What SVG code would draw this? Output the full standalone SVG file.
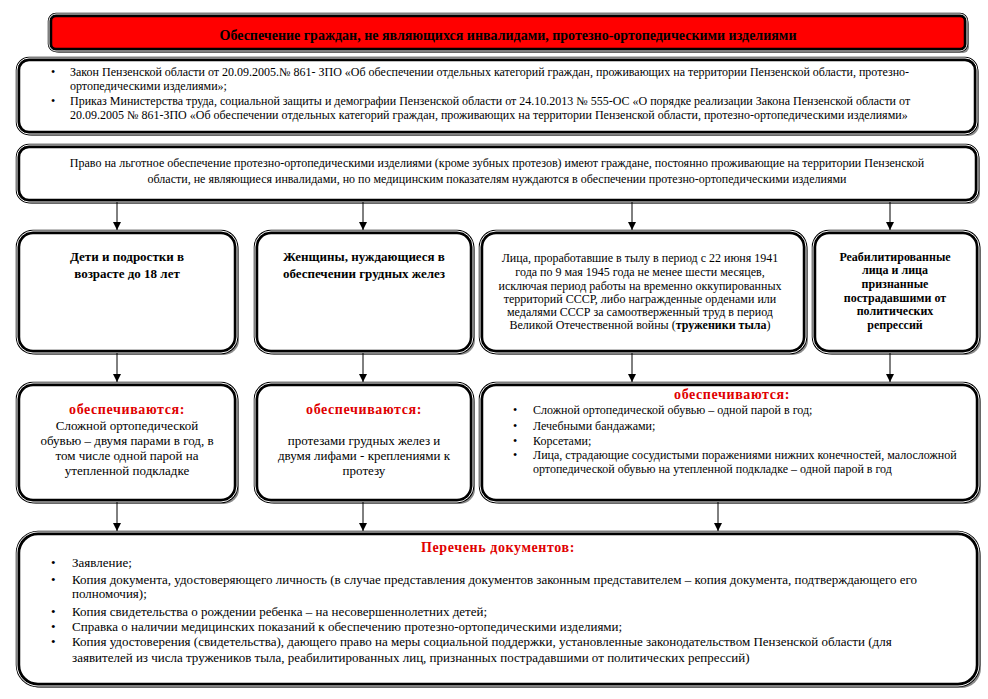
<svg xmlns="http://www.w3.org/2000/svg" width="988" height="699" viewBox="0 0 988 699">
<style>
.shadow{fill:#8a8a8a;stroke:none}
.frame{fill:#fff;stroke:#000;stroke-width:4.5}
.red{fill:#ff0000}
.gap{fill:none;stroke:#fff;stroke-width:1}
text{font-family:"Liberation Serif","Times New Roman",serif;fill:#000}
.t12{font-size:12px}
.t13{font-size:13px}
.b{font-weight:bold}
.hd{font-size:14px;font-weight:bold;fill:#e00000;letter-spacing:0.6px}
.c{text-anchor:middle}
.ln{stroke:#000;stroke-width:1;fill:none}
</style>
<defs>
<marker id="ah" viewBox="0 0 8 8" refX="8" refY="4" markerWidth="8" markerHeight="8" markerUnits="userSpaceOnUse" orient="auto">
<path d="M0,0 L8,4 L0,8 Z" fill="#000"/>
</marker>
</defs>
<rect width="988" height="699" fill="#fff"/>

<g id="title">
<rect class="shadow" x="53" y="18" width="916" height="35" rx="6"/>
<rect class="frame red" x="50" y="15" width="916" height="35" rx="6"/>
<rect class="gap" x="49" y="14" width="918" height="37" rx="7"/>
<text class="c b" x="508" y="40" font-size="14">Обеспечение граждан, не являющихся инвалидами, протезно-ортопедическими изделиями</text>
</g>

<g id="laws">
<rect class="shadow" x="21" y="62" width="958" height="74" rx="11"/>
<rect class="frame" x="18" y="59" width="958" height="74" rx="11"/>
<rect class="gap" x="17" y="58" width="960" height="76" rx="12"/>
<text class="t12" x="51" y="76">•</text>
<text class="t12" x="70" y="76">Закон Пензенской области от 20.09.2005.№ 861- ЗПО «Об обеспечении отдельных категорий граждан, проживающих на территории Пензенской области, протезно-</text>
<text class="t12" x="70" y="90">ортопедическими изделиями»;</text>
<text class="t12" x="51" y="105">•</text>
<text class="t12" x="70" y="105">Приказ Министерства труда, социальной защиты и демографии Пензенской области от 24.10.2013 № 555-ОС «О порядке реализации Закона Пензенской области от</text>
<text class="t12" x="70" y="119">20.09.2005 № 861-ЗПО «Об обеспечении отдельных категорий граждан, проживающих на территории Пензенской области, протезно-ортопедическими изделиями»</text>
</g>

<g id="right">
<rect class="shadow" x="21" y="149" width="959" height="55" rx="11"/>
<rect class="frame" x="18" y="146" width="959" height="55" rx="11"/>
<rect class="gap" x="17" y="145" width="961" height="57" rx="12"/>
<text class="t12 c" x="497" y="167">Право на льготное обеспечение протезно-ортопедическими изделиями (кроме зубных протезов) имеют граждане, постоянно проживающие на территории Пензенской</text>
<text class="t12 c" x="497" y="183">области, не являющиеся инвалидами, но по медицинским показателям нуждаются в обеспечении протезно-ортопедическими изделиями</text>
</g>

<g id="cat-children">
<rect class="shadow" x="21" y="235" width="218" height="120" rx="15"/>
<rect class="frame" x="18" y="232" width="218" height="120" rx="15"/>
<rect class="gap" x="17" y="231" width="220" height="122" rx="16"/>
<text class="t13 b c" x="127" y="261">Дети и подростки в</text>
<text class="t13 b c" x="127" y="278">возрасте до 18 лет</text>
</g>

<g id="cat-women">
<rect class="shadow" x="259" y="235" width="216" height="120" rx="15"/>
<rect class="frame" x="256" y="232" width="216" height="120" rx="15"/>
<rect class="gap" x="255" y="231" width="218" height="122" rx="16"/>
<text class="t13 b c" x="364" y="261">Женщины, нуждающиеся в</text>
<text class="t13 b c" x="364" y="278">обеспечении грудных желез</text>
</g>

<g id="cat-workers">
<rect class="shadow" x="484" y="235" width="324" height="120" rx="15"/>
<rect class="frame" x="481" y="232" width="324" height="120" rx="15"/>
<rect class="gap" x="480" y="231" width="326" height="122" rx="16"/>
<text class="t12 c" x="640" y="262">Лица, проработавшие в тылу в период с 22 июня 1941</text>
<text class="t12 c" x="640" y="276">года по 9 мая 1945 года не менее шести месяцев,</text>
<text class="t12 c" x="640" y="290">исключая период работы на временно оккупированных</text>
<text class="t12 c" x="640" y="303">территорий СССР,  либо награжденные орденами или</text>
<text class="t12 c" x="640" y="316">медалями СССР за самоотверженный труд в период</text>
<text class="t12 c" x="640" y="329">Великой Отечественной войны (<tspan class="b">труженики тыла</tspan>)</text>
</g>

<g id="cat-repressed">
<rect class="shadow" x="817" y="235" width="164" height="120" rx="15"/>
<rect class="frame" x="814" y="232" width="164" height="120" rx="15"/>
<rect class="gap" x="813" y="231" width="166" height="122" rx="16"/>
<text class="t12 b c" x="895" y="261">Реабилитированные</text>
<text class="t12 b c" x="895" y="274">лица и лица</text>
<text class="t12 b c" x="895" y="288">признанные</text>
<text class="t12 b c" x="895" y="302">пострадавшими от</text>
<text class="t12 b c" x="895" y="315">политических</text>
<text class="t12 b c" x="895" y="329">репрессий</text>
</g>

<g id="prov-children">
<rect class="shadow" x="21" y="387" width="218" height="117" rx="15"/>
<rect class="frame" x="18" y="384" width="218" height="117" rx="15"/>
<rect class="gap" x="17" y="383" width="220" height="119" rx="16"/>
<text class="hd c" x="127" y="414">обеспечиваются:</text>
<text class="t13 c" x="127" y="430">Сложной ортопедической</text>
<text class="t13 c" x="127" y="445">обувью – двумя парами в год, в</text>
<text class="t13 c" x="127" y="460">том числе одной парой на</text>
<text class="t13 c" x="127" y="475">утепленной подкладке</text>
</g>

<g id="prov-women">
<rect class="shadow" x="259" y="387" width="216" height="117" rx="15"/>
<rect class="frame" x="256" y="384" width="216" height="117" rx="15"/>
<rect class="gap" x="255" y="383" width="218" height="119" rx="16"/>
<text class="hd c" x="364" y="414">обеспечиваются:</text>
<text class="t13 c" x="364" y="445">протезами грудных желез и</text>
<text class="t13 c" x="364" y="460">двумя лифами - креплениями к</text>
<text class="t13 c" x="364" y="475">протезу</text>
</g>

<g id="prov-others">
<rect class="shadow" x="484" y="387" width="497" height="117" rx="15"/>
<rect class="frame" x="481" y="384" width="497" height="117" rx="15"/>
<rect class="gap" x="480" y="383" width="499" height="119" rx="16"/>
<text class="hd c" x="732" y="399">обеспечиваются:</text>
<text class="t12" x="513" y="414">•</text>
<text class="t12" x="533" y="414">Сложной ортопедической обувью – одной парой в год;</text>
<text class="t12" x="513" y="430">•</text>
<text class="t12" x="533" y="430">Лечебными бандажами;</text>
<text class="t12" x="513" y="445">•</text>
<text class="t12" x="533" y="445">Корсетами;</text>
<text class="t12" x="513" y="459">•</text>
<text class="t12" x="533" y="459">Лица, страдающие сосудистыми поражениями нижних конечностей, малосложной</text>
<text class="t12" x="533" y="473">ортопедической обувью на утепленной подкладке – одной парой в год</text>
</g>

<g id="documents">
<rect class="shadow" x="21" y="536" width="960" height="152" rx="20"/>
<rect class="frame" x="18" y="533" width="960" height="152" rx="20"/>
<rect class="gap" x="17" y="532" width="962" height="154" rx="21"/>
<text class="hd c" x="498" y="552">Перечень документов:</text>
<text class="t13" x="51" y="567">•</text>
<text class="t13" x="72" y="567">Заявление;</text>
<text class="t13" x="51" y="584">•</text>
<text class="t13" x="72" y="584">Копия документа, удостоверяющего личность (в случае представления документов законным представителем – копия документа, подтверждающего его</text>
<text class="t13" x="72" y="598">полномочия);</text>
<text class="t13" x="51" y="616">•</text>
<text class="t13" x="72" y="616">Копия свидетельства о рождении ребенка – на несовершеннолетних детей;</text>
<text class="t13" x="51" y="631">•</text>
<text class="t13" x="72" y="631">Справка о наличии медицинских показаний к обеспечению протезно-ортопедическими изделиями;</text>
<text class="t13" x="51" y="646">•</text>
<text class="t13" x="72" y="646">Копия удостоверения (свидетельства), дающего право на меры социальной поддержки, установленные законодательством Пензенской области (для</text>
<text class="t13" x="72" y="662">заявителей из числа тружеников тыла, реабилитированных лиц, признанных пострадавшими от политических репрессий)</text>
</g>

<g id="connectors">
<line class="ln" x1="117" y1="202" x2="117" y2="230" marker-end="url(#ah)"/>
<line class="ln" x1="363" y1="202" x2="363" y2="230" marker-end="url(#ah)"/>
<line class="ln" x1="632" y1="202" x2="632" y2="230" marker-end="url(#ah)"/>
<line class="ln" x1="890" y1="202" x2="890" y2="230" marker-end="url(#ah)"/>
<line class="ln" x1="117" y1="353" x2="117" y2="382" marker-end="url(#ah)"/>
<line class="ln" x1="363" y1="353" x2="363" y2="382" marker-end="url(#ah)"/>
<line class="ln" x1="632" y1="353" x2="632" y2="382" marker-end="url(#ah)"/>
<line class="ln" x1="890" y1="353" x2="890" y2="382" marker-end="url(#ah)"/>
<line class="ln" x1="117" y1="502" x2="117" y2="531" marker-end="url(#ah)"/>
<line class="ln" x1="363" y1="502" x2="363" y2="531" marker-end="url(#ah)"/>
<line class="ln" x1="718" y1="502" x2="718" y2="531" marker-end="url(#ah)"/>
</g>
</svg>
